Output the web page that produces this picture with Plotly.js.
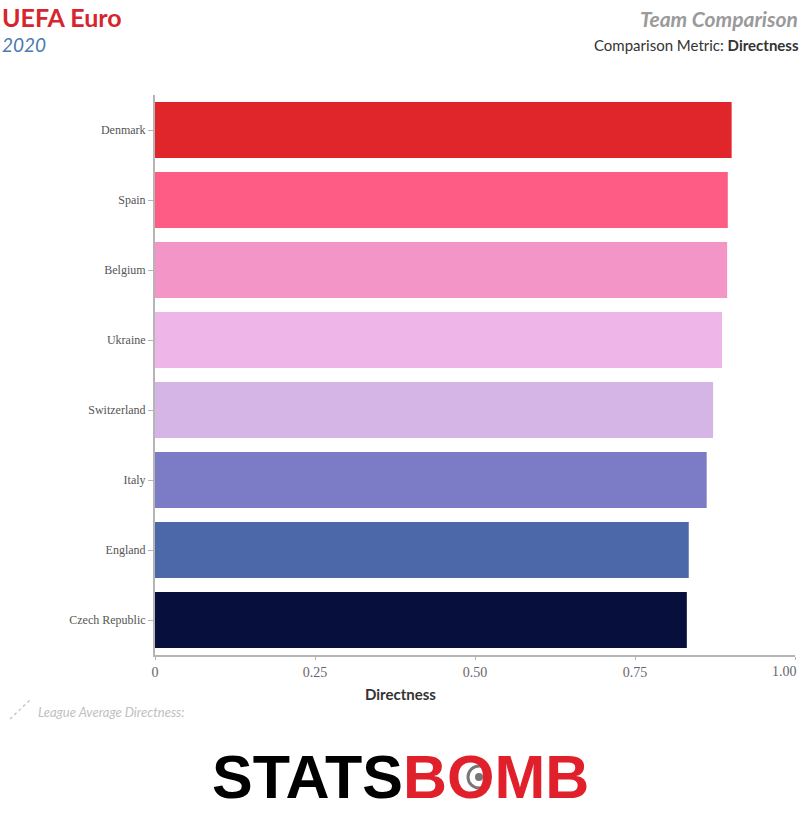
<!DOCTYPE html>
<html>
<head>
<meta charset="utf-8">
<script src="https://cdn.plot.ly/plotly-3.0.1.min.js"></script>
<style>html,body{margin:0;padding:0;background:#fff;}#chart{width:800px;height:820px;}</style>
</head>
<body>
<div id="chart"></div>
<script>
const teams = ["Denmark", "Spain", "Belgium", "Ukraine", "Switzerland", "Italy", "England", "Czech Republic"];
const directness = [0.901, 0.895, 0.894, 0.886, 0.872, 0.862, 0.834, 0.831];
const barColors = ["#e0262b", "#ff5c85", "#f495c8", "#eeb5e8", "#d4b5e5", "#7b7cc5", "#4d68a8", "#07103d"];
const xTickVals = [0, 0.25, 0.5, 0.75, 1];
const xTickText = ["0", "0.25", "0.50", "0.75", ""];
const lastTickLabel = "1.00";

const W = 800, H = 820, L = 155, R = 5, T = 95, B = 165;
const pw = W - L - R, ph = H - T - B;
const px = x => (x - L) / pw;
const py = y => (H - B - y) / ph;

const trace = {
  type: "bar",
  orientation: "h",
  y: teams,
  x: directness,
  marker: {color: barColors, line: {width: 0}},
  hoverinfo: "x+y"
};

const sans = "Lato, 'Open Sans', sans-serif";
const serif = "'Liberation Serif', serif";
const layout = {
  width: W, height: H,
  margin: {l: L, r: R, t: T, b: B, pad: 0},
  paper_bgcolor: "#fff", plot_bgcolor: "#fff",
  bargap: 0.2,
  showlegend: false,
  xaxis: {
    range: [0, 1], tickvals: xTickVals, ticktext: xTickText,
    showgrid: false, zeroline: false, showline: true, linecolor: "#b5b5b5", linewidth: 2,
    ticks: "outside", ticklen: 3, tickcolor: "#b5b5b5", tickwidth: 1,
    tickfont: {family: serif, size: 14, color: "#666"}
  },
  yaxis: {
    autorange: "reversed", showgrid: false, zeroline: false,
    showline: true, linecolor: "#b5b5b5", linewidth: 2,
    ticks: "outside", ticklen: 5, tickcolor: "#b5b5b5", tickwidth: 1,
    tickfont: {family: serif, size: 12, color: "#555"}
  },
  annotations: [
    {text: lastTickLabel, xref: "paper", yref: "paper", x: px(799), y: py(671), xanchor: "right", yanchor: "middle", showarrow: false, font: {family: serif, size: 14, color: "#666"}},
    {text: "<b>UEFA Euro</b>", xref: "paper", yref: "paper", x: px(0), y: py(17), xanchor: "left", yanchor: "middle", showarrow: false, font: {family: sans, size: 25, color: "#d7252f"}},
    {text: "<i>2020</i>", xref: "paper", yref: "paper", x: px(0), y: py(44), xanchor: "left", yanchor: "middle", showarrow: false, font: {family: sans, size: 19, color: "#4a7ab0"}},
    {text: "<b><i>Team Comparison</i></b>", xref: "paper", yref: "paper", x: px(800), y: py(18), xanchor: "right", yanchor: "middle", showarrow: false, font: {family: sans, size: 21, color: "#9a9a9a"}},
    {text: "Comparison Metric: <b>Directness</b>", xref: "paper", yref: "paper", x: px(801), y: py(45), xanchor: "right", yanchor: "middle", showarrow: false, font: {family: sans, size: 15, color: "#333"}},
    {text: "<b>Directness</b>", xref: "paper", yref: "paper", x: px(400), y: py(694), xanchor: "center", yanchor: "middle", showarrow: false, font: {family: sans, size: 15, color: "#333"}},
    {text: "<i>League Average Directness:</i>", xref: "paper", yref: "paper", x: px(36), y: py(712), xanchor: "left", yanchor: "middle", showarrow: false, font: {family: sans, size: 13, color: "#c0c0c0"}},
    {text: "<b>STATS<span style='color:#e0202b'>BOMB</span></b>", xref: "paper", yref: "paper", x: px(400), y: py(777), xanchor: "center", yanchor: "middle", showarrow: false, font: {family: "'Liberation Sans', Arial, sans-serif", size: 61, color: "#000"}}
  ],
  shapes: [
    {type: "line", xref: "paper", yref: "paper", x0: px(10), y0: py(719), x1: px(30), y1: py(700), line: {color: "#c8c8c8", width: 1.5, dash: "dot"}},
    {type: "circle", xref: "paper", yref: "paper", x0: px(468), y0: py(766), x1: px(490), y1: py(788), line: {color: "#777", width: 3}},
    {type: "circle", xref: "paper", yref: "paper", x0: px(475), y0: py(773), x1: px(483), y1: py(781), fillcolor: "#777", line: {width: 0}}
  ]
};

Plotly.newPlot("chart", [trace], layout, {displayModeBar: false, staticPlot: true});
</script>
</body>
</html>
